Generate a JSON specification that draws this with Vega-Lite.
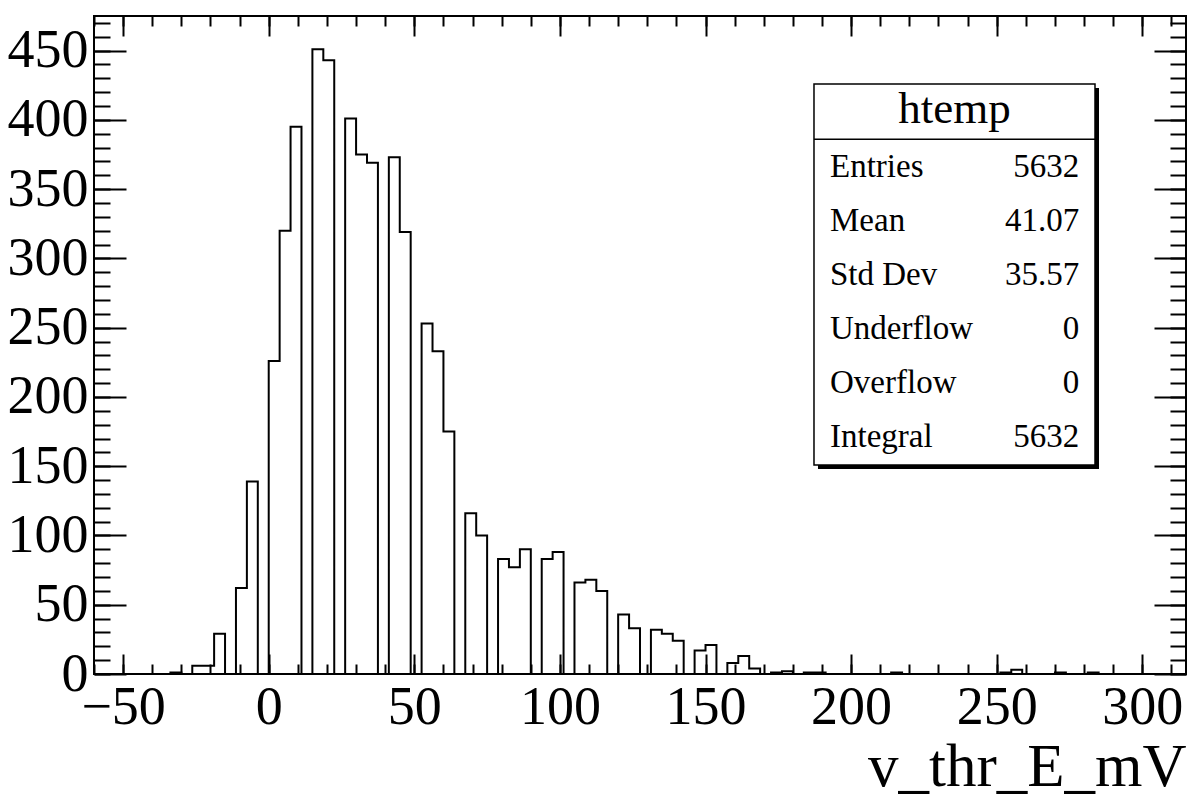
{
  "$schema": "https://vega.github.io/schema/vega-lite/v6.json",
  "width": 1092,
  "height": 658,
  "autosize": {"type": "none"},
  "padding": {"left": 94, "top": 16, "right": 15, "bottom": 126},
  "background": "white",
  "config": {
    "view": {"stroke": "black", "strokeWidth": 2},
    "axis": {
      "domain": false,
      "grid": false,
      "tickColor": "black",
      "tickWidth": 2,
      "labelFont": "Liberation Serif",
      "labelFontSize": 54,
      "labelColor": "black",
      "titleFont": "Liberation Serif",
      "labelOverlap": false,
      "labelFlush": false,
      "labelBound": false
    }
  },
  "data": {
    "values": [
      {"x": -60, "n": 0}, {"x": -56.25, "n": 0}, {"x": -52.5, "n": 0}, {"x": -48.75, "n": 0},
      {"x": -45, "n": 0}, {"x": -41.25, "n": 0}, {"x": -37.5, "n": 0}, {"x": -33.75, "n": 1},
      {"x": -30, "n": 0}, {"x": -26.25, "n": 6}, {"x": -22.5, "n": 6}, {"x": -18.75, "n": 29},
      {"x": -15, "n": 0}, {"x": -11.25, "n": 62}, {"x": -7.5, "n": 139}, {"x": -3.75, "n": 0},
      {"x": 0, "n": 226}, {"x": 3.75, "n": 320}, {"x": 7.5, "n": 395}, {"x": 11.25, "n": 0},
      {"x": 15, "n": 451}, {"x": 18.75, "n": 443}, {"x": 22.5, "n": 0}, {"x": 26.25, "n": 401},
      {"x": 30, "n": 375}, {"x": 33.75, "n": 369}, {"x": 37.5, "n": 0}, {"x": 41.25, "n": 373},
      {"x": 45, "n": 319}, {"x": 48.75, "n": 0}, {"x": 52.5, "n": 253}, {"x": 56.25, "n": 233},
      {"x": 60, "n": 175}, {"x": 63.75, "n": 0}, {"x": 67.5, "n": 116}, {"x": 71.25, "n": 100},
      {"x": 75, "n": 0}, {"x": 78.75, "n": 83}, {"x": 82.5, "n": 77}, {"x": 86.25, "n": 90},
      {"x": 90, "n": 0}, {"x": 93.75, "n": 83}, {"x": 97.5, "n": 88}, {"x": 101.25, "n": 0},
      {"x": 105, "n": 66}, {"x": 108.75, "n": 68}, {"x": 112.5, "n": 60}, {"x": 116.25, "n": 0},
      {"x": 120, "n": 43}, {"x": 123.75, "n": 33}, {"x": 127.5, "n": 0}, {"x": 131.25, "n": 32},
      {"x": 135, "n": 29}, {"x": 138.75, "n": 24}, {"x": 142.5, "n": 0}, {"x": 146.25, "n": 17},
      {"x": 150, "n": 21}, {"x": 153.75, "n": 0}, {"x": 157.5, "n": 8}, {"x": 161.25, "n": 13},
      {"x": 165, "n": 4}, {"x": 168.75, "n": 0}, {"x": 172.5, "n": 1}, {"x": 176.25, "n": 2},
      {"x": 180, "n": 0}, {"x": 183.75, "n": 1}, {"x": 187.5, "n": 1}, {"x": 191.25, "n": 0},
      {"x": 195, "n": 0}, {"x": 198.75, "n": 0}, {"x": 202.5, "n": 0}, {"x": 206.25, "n": 0},
      {"x": 210, "n": 0}, {"x": 213.75, "n": 1}, {"x": 217.5, "n": 0}, {"x": 221.25, "n": 0},
      {"x": 225, "n": 0}, {"x": 228.75, "n": 0}, {"x": 232.5, "n": 0}, {"x": 236.25, "n": 0},
      {"x": 240, "n": 0}, {"x": 243.75, "n": 0}, {"x": 247.5, "n": 0}, {"x": 251.25, "n": 1},
      {"x": 255, "n": 3}, {"x": 258.75, "n": 0}, {"x": 262.5, "n": 0}, {"x": 266.25, "n": 0},
      {"x": 270, "n": 1}, {"x": 273.75, "n": 0}, {"x": 277.5, "n": 0}, {"x": 281.25, "n": 1},
      {"x": 285, "n": 0}, {"x": 288.75, "n": 0}, {"x": 292.5, "n": 0}, {"x": 296.25, "n": 0},
      {"x": 300, "n": 0}, {"x": 303.75, "n": 0}, {"x": 307.5, "n": 0}, {"x": 311.25, "n": 0},
      {"x": 315, "n": 0}
    ]
  },
  "resolve": {"scale": {"y": "independent"}, "axis": {"x": "independent", "y": "independent"}},
  "layer": [
    {
      "mark": {"type": "line", "interpolate": "step-after", "color": "black", "strokeWidth": 2},
      "encoding": {
        "x": {"field": "x", "type": "quantitative", "scale": {"domain": [-60, 315], "nice": false, "zero": false},
          "axis": {"orient": "bottom", "values": [-50, 0, 50, 100, 150, 200, 250, 300], "tickSize": 20, "offset": -20,
            "labelPadding": 6, "format": "d", "title": "v_thr_E_mV", "titleFontSize": 61, "titleFontWeight": "normal",
            "titleColor": "black", "titleAlign": "right", "titleX": 1092, "titleY": 131, "titleBaseline": "alphabetic"}},
        "y": {"field": "n", "type": "quantitative", "scale": {"domain": [0, 475], "nice": false},
          "axis": {"orient": "left", "values": [0, 50, 100, 150, 200, 250, 300, 350, 400, 450], "tickSize": 32, "offset": -32,
            "labelPadding": 6, "format": "d", "title": null}}
      }
    },
    {
      "mark": {"type": "line", "interpolate": "step-after", "strokeOpacity": 0},
      "encoding": {
        "x": {"field": "x", "type": "quantitative", "scale": {"domain": [-60, 315], "nice": false, "zero": false},
          "axis": {"orient": "bottom", "values": [-60, -50, -40, -30, -20, -10, 0, 10, 20, 30, 40, 50, 60, 70, 80, 90, 100, 110, 120, 130, 140, 150, 160, 170, 180, 190, 200, 210, 220, 230, 240, 250, 260, 270, 280, 290, 300, 310],
            "tickSize": 10, "offset": -10, "labels": false, "title": null}},
        "y": {"field": "n", "type": "quantitative", "scale": {"domain": [0, 475], "nice": false},
          "axis": {"orient": "left", "values": [0, 10, 20, 30, 40, 50, 60, 70, 80, 90, 100, 110, 120, 130, 140, 150, 160, 170, 180, 190, 200, 210, 220, 230, 240, 250, 260, 270, 280, 290, 300, 310, 320, 330, 340, 350, 360, 370, 380, 390, 400, 410, 420, 430, 440, 450, 460, 470],
            "tickSize": 16, "offset": -16, "labels": false, "title": null}}
      }
    },
    {
      "mark": {"type": "line", "interpolate": "step-after", "strokeOpacity": 0},
      "encoding": {
        "x": {"field": "x", "type": "quantitative", "scale": {"domain": [-60, 315], "nice": false, "zero": false},
          "axis": {"orient": "top", "values": [-50, 0, 50, 100, 150, 200, 250, 300], "tickSize": 20, "offset": -20, "labels": false, "title": null}},
        "y": {"field": "n", "type": "quantitative", "scale": {"domain": [0, 475], "nice": false},
          "axis": {"orient": "right", "values": [0, 50, 100, 150, 200, 250, 300, 350, 400, 450], "tickSize": 32, "offset": -32, "labels": false, "title": null}}
      }
    },
    {
      "mark": {"type": "line", "interpolate": "step-after", "strokeOpacity": 0},
      "encoding": {
        "x": {"field": "x", "type": "quantitative", "scale": {"domain": [-60, 315], "nice": false, "zero": false},
          "axis": {"orient": "top", "values": [-60, -50, -40, -30, -20, -10, 0, 10, 20, 30, 40, 50, 60, 70, 80, 90, 100, 110, 120, 130, 140, 150, 160, 170, 180, 190, 200, 210, 220, 230, 240, 250, 260, 270, 280, 290, 300, 310],
            "tickSize": 10, "offset": -10, "labels": false, "title": null}},
        "y": {"field": "n", "type": "quantitative", "scale": {"domain": [0, 475], "nice": false},
          "axis": {"orient": "right", "values": [0, 10, 20, 30, 40, 50, 60, 70, 80, 90, 100, 110, 120, 130, 140, 150, 160, 170, 180, 190, 200, 210, 220, 230, 240, 250, 260, 270, 280, 290, 300, 310, 320, 330, 340, 350, 360, 370, 380, 390, 400, 410, 420, 430, 440, 450, 460, 470],
            "tickSize": 16, "offset": -16, "labels": false, "title": null}}
      }
    },
    {
      "data": {"values": [{}]},
      "mark": {"type": "rect", "fill": "black", "xOffset": 4, "x2Offset": 4, "yOffset": 4, "y2Offset": 4},
      "encoding": {
        "x": {"datum": 187.25, "type": "quantitative", "scale": {"domain": [-60, 315], "nice": false, "zero": false}, "axis": null},
        "x2": {"datum": 283.75},
        "y": {"datum": 425.9, "type": "quantitative", "scale": {"domain": [0, 475], "nice": false}, "axis": null},
        "y2": {"datum": 150.9}
      }
    },
    {
      "data": {"values": [{}]},
      "mark": {"type": "rect", "fill": "white", "stroke": "black", "strokeWidth": 1.5},
      "encoding": {
        "x": {"datum": 187.25, "type": "quantitative", "scale": {"domain": [-60, 315], "nice": false, "zero": false}, "axis": null},
        "x2": {"datum": 283.75},
        "y": {"datum": 425.9, "type": "quantitative", "scale": {"domain": [0, 475], "nice": false}, "axis": null},
        "y2": {"datum": 150.9}
      }
    },
    {
      "data": {"values": [{}]},
      "mark": {"type": "rule", "color": "black", "strokeWidth": 1.5},
      "encoding": {
        "x": {"datum": 187.25, "type": "quantitative", "scale": {"domain": [-60, 315], "nice": false, "zero": false}, "axis": null},
        "x2": {"datum": 283.75},
        "y": {"datum": 386, "type": "quantitative", "scale": {"domain": [0, 475], "nice": false}, "axis": null}
      }
    },
    {
      "data": {"values": [{"name": "htemp"}]},
      "mark": {"type": "text", "font": "Liberation Serif", "fontSize": 45, "align": "center", "baseline": "alphabetic", "color": "black"},
      "encoding": {
        "text": {"field": "name"},
        "x": {"datum": 235.5, "type": "quantitative", "scale": {"domain": [-60, 315], "nice": false, "zero": false}, "axis": null},
        "y": {"datum": 397.8, "type": "quantitative", "scale": {"domain": [0, 475], "nice": false}, "axis": null}
      }
    },
    {
      "data": {"values": [
        {"stat": "Entries", "val": "5632"},
        {"stat": "Mean", "val": "41.07"},
        {"stat": "Std Dev", "val": "35.57"},
        {"stat": "Underflow", "val": "0"},
        {"stat": "Overflow", "val": "0"},
        {"stat": "Integral", "val": "5632"}
      ]},
      "mark": {"type": "text", "font": "Liberation Serif", "fontSize": 33, "align": "left", "baseline": "alphabetic", "color": "black"},
      "encoding": {
        "text": {"field": "stat"},
        "x": {"datum": 192.75, "type": "quantitative", "scale": {"domain": [-60, 315], "nice": false, "zero": false}, "axis": null},
        "y": {"field": "stat", "type": "nominal", "sort": null,
          "scale": {"type": "point", "domain": ["Entries", "Mean", "Std Dev", "Underflow", "Overflow", "Integral"], "range": [161, 431], "padding": 0}, "axis": null}
      }
    },
    {
      "data": {"values": [
        {"stat": "Entries", "val": "5632"},
        {"stat": "Mean", "val": "41.07"},
        {"stat": "Std Dev", "val": "35.57"},
        {"stat": "Underflow", "val": "0"},
        {"stat": "Overflow", "val": "0"},
        {"stat": "Integral", "val": "5632"}
      ]},
      "mark": {"type": "text", "font": "Liberation Serif", "fontSize": 33, "align": "right", "baseline": "alphabetic", "color": "black"},
      "encoding": {
        "text": {"field": "val"},
        "x": {"datum": 278.3, "type": "quantitative", "scale": {"domain": [-60, 315], "nice": false, "zero": false}, "axis": null},
        "y": {"field": "stat", "type": "nominal", "sort": null,
          "scale": {"type": "point", "domain": ["Entries", "Mean", "Std Dev", "Underflow", "Overflow", "Integral"], "range": [161, 431], "padding": 0}, "axis": null}
      }
    }
  ]
}
